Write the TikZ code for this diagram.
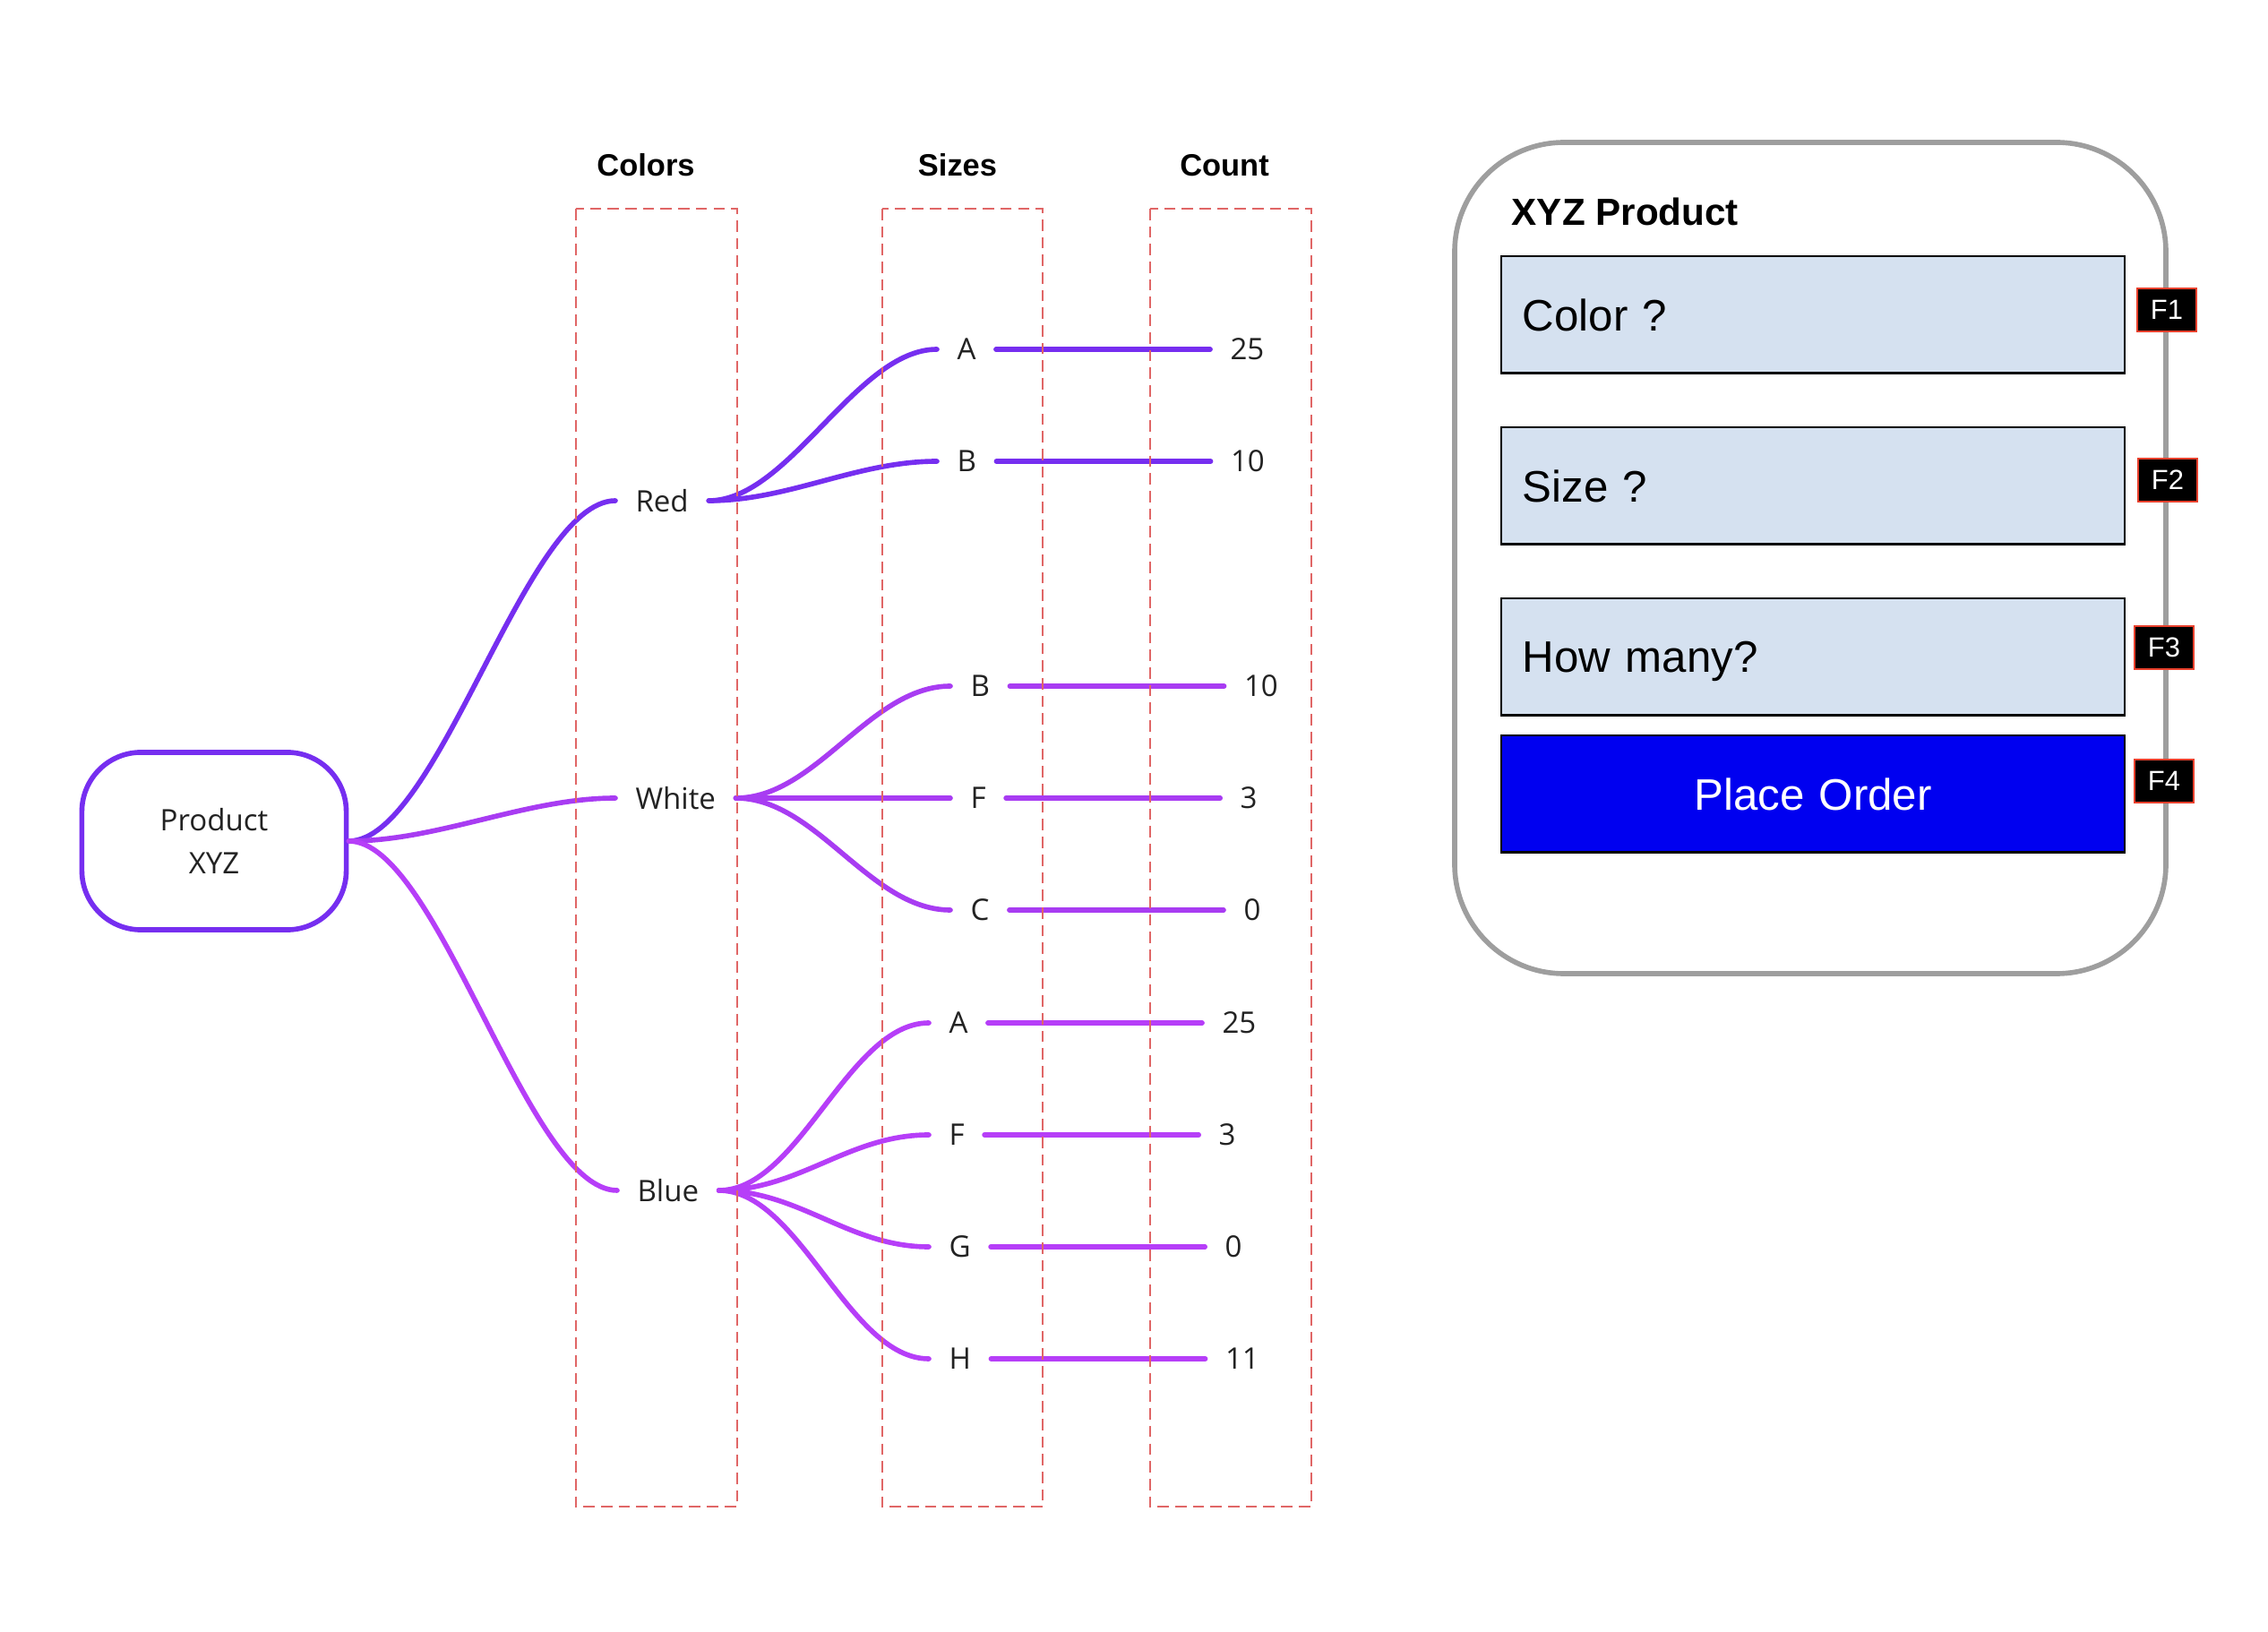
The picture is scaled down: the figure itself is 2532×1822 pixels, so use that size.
\documentclass[tikz,border=0pt]{standalone}
\usepackage{fontspec}
\newfontfamily\mapfont{Open Sans}
\newfontfamily\uifont{Liberation Sans}
\usetikzlibrary{positioning}

\definecolor{redbranch}{RGB}{118,46,240}
\definecolor{whitebranch}{RGB}{168,60,242}
\definecolor{bluebranch}{RGB}{182,62,248}
\definecolor{mapgray}{RGB}{34,34,34}
\definecolor{guide}{RGB}{224,102,102}
\definecolor{panelgray}{RGB}{158,158,158}
\definecolor{fieldblue}{RGB}{213,225,240}
\definecolor{orderblue}{RGB}{0,0,240}
\definecolor{keyred}{RGB}{232,64,44}

\begin{document}
\begin{tikzpicture}[x=0.01cm,y=-0.01cm]

\tikzset{
    map text/.style={font=\mapfont\fontsize{9.4}{12}\selectfont, text=mapgray, inner xsep=6.2pt, inner ysep=2pt},
    map node/.style={map text, anchor=west},
    count node/.style={map text, right=2.39cm of #1},
    branch/.style={line width=1.6pt, line cap=round},
    guide box/.style={draw=guide, line width=0.75pt, dash pattern=on 3.6pt off 2pt},
    header/.style={font=\uifont\bfseries\fontsize{9.8}{12}\selectfont, anchor=base, inner sep=0pt},
    field/.style={draw=black, line width=0.7pt, fill=fieldblue, anchor=north west,
        minimum width=6.95cm, minimum height=1.3cm, inner xsep=6.7pt, text width=6.48cm,
        text depth=0pt, align=left, font=\uifont\fontsize{14}{16}\selectfont},
    key/.style={draw=keyred, fill=black, line width=0.6pt, text=white, inner sep=0pt,
        minimum width=0.66cm, minimum height=0.48cm, font=\uifont\fontsize{8.8}{10}\selectfont},
}

\useasboundingbox (0,0) rectangle (2532,1822);

%% Product
\node[draw=redbranch, line width=1.6pt, rounded corners=0.66cm, minimum width=2.95cm,
    minimum height=1.98cm, align=center, text=mapgray,
    font=\mapfont\fontsize{9.4}{13.9}\selectfont] (product) at (239,939) {Product\\XYZ};

%% Colors
\node[map node] (red) at (687,559) {Red};
\node[map node] (white) at (687,891) {White};
\node[map node] (blue) at (689,1329) {Blue};

\draw[branch,redbranch] (product.east) .. controls +(100,0) and +(-100,0) .. (red.west);
\draw[branch,whitebranch] (product.east) .. controls +(100,0) and +(-100,0) .. (white.west);
\draw[branch,bluebranch] (product.east) .. controls +(100,0) and +(-100,0) .. (blue.west);

%% Sizes and counts
\foreach \nm/\y/\sz/\cnt in {red_a/390/A/25, red_b/515/B/10}{
    \node[map node] (\nm) at (1046,\y) {\sz};
    \node[count node=\nm] (\nm_cnt) {\cnt};
    \draw[branch,redbranch] (red.east) .. controls +(90,0) and +(-90,0) .. (\nm.west);
    \draw[branch,redbranch] (\nm.east) -- (\nm_cnt.west);
}

\foreach \nm/\y/\sz/\cnt in {white_b/766/B/10, white_f/891/F/3, white_c/1016/C/0}{
    \node[map node] (\nm) at (1061,\y) {\sz};
    \node[count node=\nm] (\nm_cnt) {\cnt};
    \draw[branch,whitebranch] (white.east) .. controls +(90,0) and +(-90,0) .. (\nm.west);
    \draw[branch,whitebranch] (\nm.east) -- (\nm_cnt.west);
}

\foreach \nm/\y/\sz/\cnt in {blue_a/1142/A/25, blue_f/1267/F/3, blue_g/1392/G/0, blue_h/1517/H/11}{
    \node[map node] (\nm) at (1037,\y) {\sz};
    \node[count node=\nm] (\nm_cnt) {\cnt};
    \draw[branch,bluebranch] (blue.east) .. controls +(90,0) and +(-90,0) .. (\nm.west);
    \draw[branch,bluebranch] (\nm.east) -- (\nm_cnt.west);
}

%% Column guides
\node[header] (hdr_colors) at (721,197) {Colors};
\node[header] (hdr_sizes) at (1069,197) {Sizes};
\node[header] (hdr_count) at (1367,197) {Count};

\draw[guide box] (643,233) rectangle (823,1682);
\draw[guide box] (985,233) rectangle (1164,1682);
\draw[guide box] (1284,233) rectangle (1464,1682);

%% Order form
\draw[panelgray, line width=1.6pt, rounded corners=1.22cm] (1624,159) rectangle (2418,1087);
\node[anchor=base west, inner sep=0pt, font=\uifont\bfseries\fontsize{12}{14}\selectfont]
    (form_title) at (1687,252) {XYZ Product};

\node[field] (color_field) at (1675,285) {Color ?};
\node[field] (size_field) at (1675,476) {Size ?};
\node[field] (count_field) at (1675,667) {How many?};
\node[field, fill=orderblue, text=white, align=center] (order_btn) at (1675,820) {Place Order};

\node[key] (key_f1) at (2419,346) {F1};
\node[key] (key_f2) at (2420,536) {F2};
\node[key] (key_f3) at (2416,723) {F3};
\node[key] (key_f4) at (2416,872) {F4};

\end{tikzpicture}
\end{document}
